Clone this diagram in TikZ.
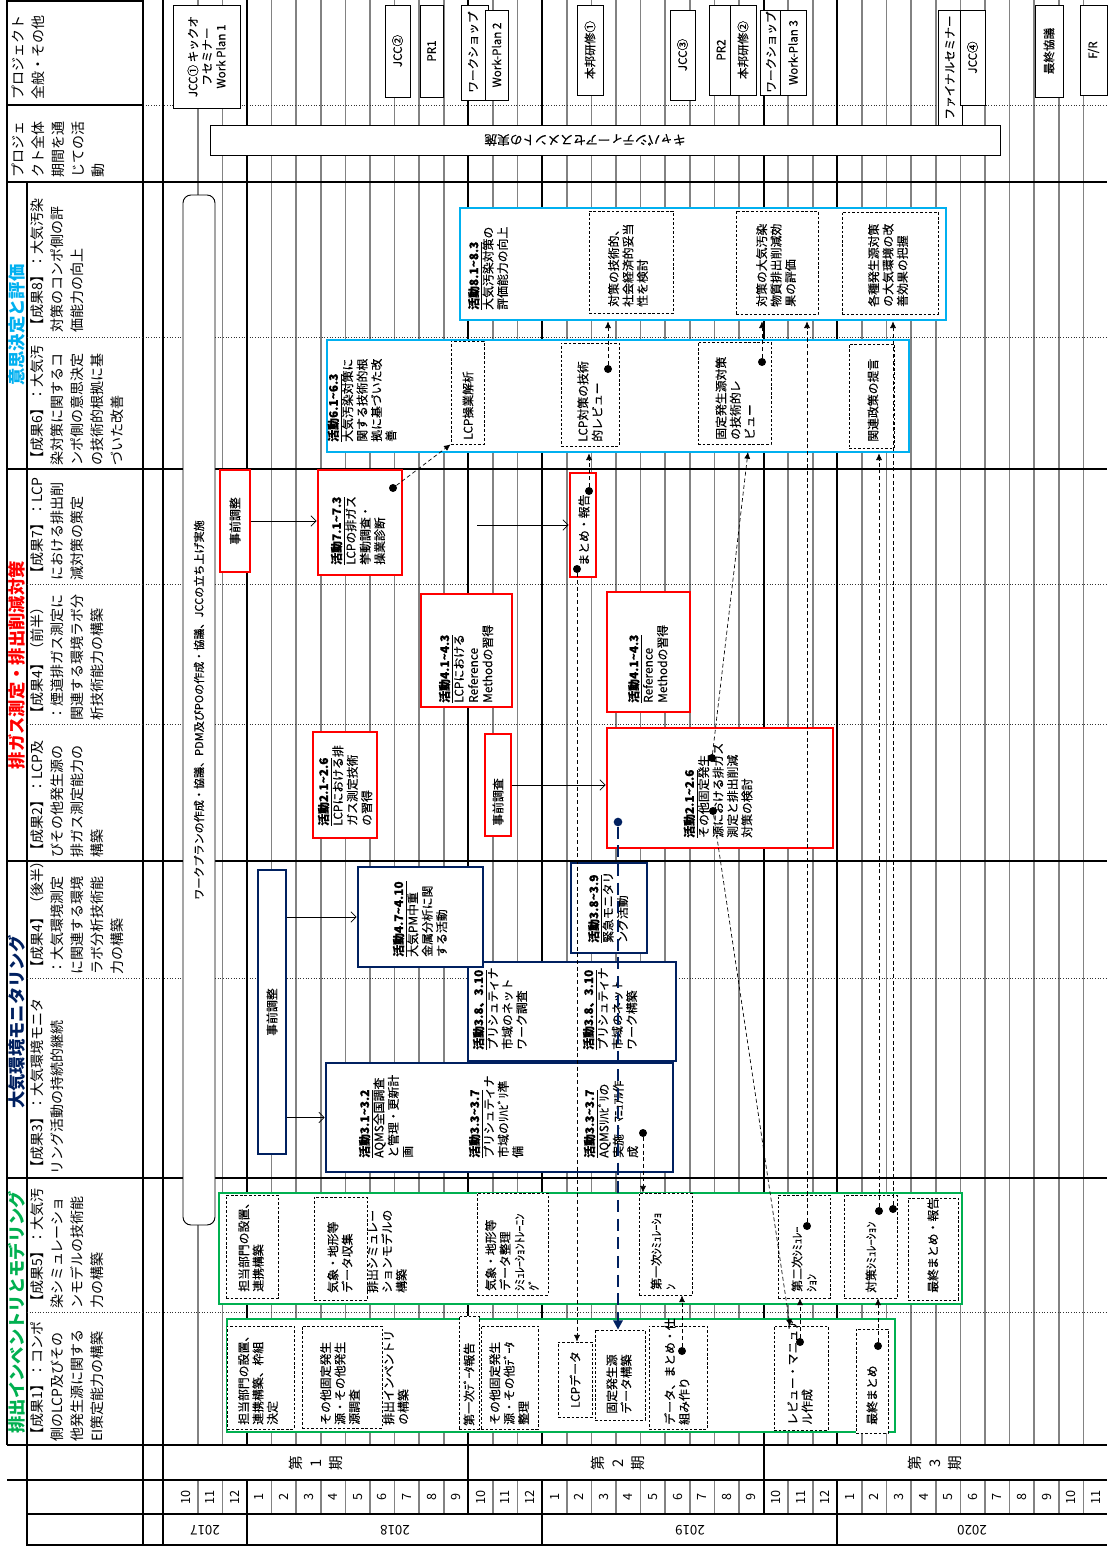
\documentclass[tikz,border=0pt]{standalone}
\usepackage{fontspec}
\setmainfont{Noto Sans CJK JP}
\newfontfamily\bxfont{Noto Sans CJK JP}[FakeBold=0.3]
\usetikzlibrary{arrows.meta,fit}
\definecolor{cgreen}{RGB}{0,176,80}
\definecolor{cnavy}{RGB}{0,32,96}
\definecolor{cred}{RGB}{255,0,0}
\definecolor{ccyan}{RGB}{0,176,240}
\definecolor{gridgray}{RGB}{130,130,130}
\newcommand{\wv}{\textasciitilde}
\newcommand{\act}[1]{\underline{\textbf{活動#1}}}
\newcommand{\fsz}{\bxfont\fontsize{8.9}{10.8}\selectfont}
% box from two corner points (pixel units)
\newcommand{\mkbox}[6]{\node[#1, fit={(#3,#4) (#5,#6)}, inner sep=0pt] (#2) {};}
% rotated text block, anchored at its lower middle
\newcommand{\tw}[4]{\node[tx] (#1) at (#2,#3) {#4};}
\begin{document}
\begin{tikzpicture}[x=0.75pt,y=-0.75pt,
  mgrid/.style={draw=gridgray, line width=1.1pt},
  thk/.style={draw=black, line width=1.5pt},
  medl/.style={draw=black, line width=0.9pt},
  dotl/.style={draw=black!80, line width=0.6pt, dash pattern=on 0.8pt off 1.2pt},
  rb/.style={draw=cred, line width=2pt, fill=white},
  nb/.style={draw=cnavy, line width=2pt, fill=white},
  cb/.style={draw=ccyan, line width=2pt, fill=white},
  gb/.style={draw=cgreen, line width=2pt, fill=white},
  db/.style={draw=black, line width=0.55pt, dash pattern=on 2pt off 1.4pt, fill=white},
  tb/.style={draw=black, line width=0.7pt, fill=white},
  rr/.style={draw=black, line width=0.7pt, rounded corners=6pt, fill=white},
  tx/.style={rotate=90, anchor=west, align=left, inner sep=0pt, font=\fsz},
  tt/.style={rotate=90, align=center, inner sep=0pt, font=\bxfont\fontsize{8.7}{10.5}\selectfont},
  hd/.style={rotate=90, anchor=north west, align=left, inner sep=0pt, font=\fontsize{10.5}{15}\selectfont},
  cat/.style={rotate=90, inner sep=0pt, font=\fontsize{13}{13}\selectfont\bfseries},
  bdot/.style={circle, fill=black, inner sep=0pt, minimum size=6pt},
  ndot/.style={circle, fill=cnavy, inner sep=0pt, minimum size=6.5pt},
  dcon/.style={draw=black, line width=0.5pt, dash pattern=on 3pt off 2pt, -{Latex[length=5pt,width=4.5pt]}},
  ncon/.style={draw=cnavy, line width=2.2pt, dash pattern=on 9pt off 5pt, -{Triangle[length=7pt,width=7pt]}},
  sarr/.style={draw=black, line width=0.5pt, -{Straight Barb[length=4pt,width=8pt]}},
]
\fill[white] (0,0) rectangle (1107,1546);
\useasboundingbox (0,0) rectangle (1107,1546);

% ---------- month grid ----------
\foreach \m in {1,...,37} {
  \draw[mgrid] ({173.2+24.6*\m},0) -- ({173.2+24.6*\m},1445);
  \draw[mgrid] ({173.2+24.6*\m},1480) -- ({173.2+24.6*\m},1514);
}
% row separators inside the chart
\foreach \yy in {105,337,584,724,978,1312} \draw[dotl] (143,\yy) -- (1107,\yy);
\draw[medl] (7,469) -- (1107,469);
\foreach \yy in {182,861,1178,1445,1480} \draw[thk] (7,\yy) -- (1107,\yy);
\draw[medl] (27,1514) -- (1107,1514);
\draw[medl] (27,1545) -- (1107,1545);
% year and period boundaries
\foreach \m in {3,15,27} {
  \draw[thk] ({173.2+24.6*\m},0) -- ({173.2+24.6*\m},1445);
  \draw[thk] ({173.2+24.6*\m},1480) -- ({173.2+24.6*\m},1546);
}
\foreach \m in {12,24} \draw[thk] ({173.2+24.6*\m},0) -- ({173.2+24.6*\m},1514);
\draw[thk] (163,0) -- (163,1546);

% ---------- header column ----------
\draw[thk] (7,0.8) -- (143,0.8);
\draw[thk] (7,105) -- (143,105);
\draw[thk] (7,0) -- (7,1445);
\draw[thk] (143,0) -- (143,1546);
\draw[medl] (27,182) -- (27,1445);
\draw[thk] (27,1445) -- (27,1546);
\foreach \yy in {337,584,724,978,1312} \draw[dotl] (27,\yy) -- (143,\yy);

\node[hd] (h00) at (12,100) {プロジェクト\\全般・その他};
\node[hd] (h01) at (12,178) {プロジェ\\クト全体\\期間を通\\じての活\\動};
\node[hd] (h8) at (30,333) {【成果8】：大気汚染\\対策のコンポ側の評\\価能力の向上};
\node[hd] (h6) at (30,466) {【成果6】：大気汚\\染対策に関するコ\\ンポ側の意思決定\\の技術的根拠に基\\づいた改善};
\node[hd] (h7) at (30,581) {【成果7】：LCP\\における排出削\\減対策の策定};
\node[hd] (h4a) at (30,721) {【成果4】（前半）\\：煙道排ガス測定に\\関連する環境ラボ分\\析技術能力の構築};
\node[hd] (h2) at (30,858) {【成果2】：LCP及\\びその他発生源の\\排ガス測定能力の\\構築};
\node[hd] (h4b) at (30,975) {【成果4】（後半）\\：大気環境測定\\に関連する環境\\ラボ分析技術能\\力の構築};
\node[hd] (h3) at (30,1175) {【成果3】：大気環境モニタ\\リング活動の持続的継続};
\node[hd] (h5) at (30,1309) {【成果5】：大気汚\\染シミュレーショ\\ンモデルの技術能\\力の構築};
\node[hd] (h1) at (30,1442) {【成果1】：コンポ\\側のLCP及びその\\他発生源に関する\\EI策定能力の構築};

\node[cat, text=ccyan] (k1) at (17,325) {意思決定と評価};
\node[cat, text=cred] (k2) at (17,665) {排ガス測定・排出削減対策};
\node[cat, text=cnavy] (k3) at (17,1022) {大気環境モニタリング};
\node[cat, text=cgreen] (k4) at (17,1312) {排出インベントリとモデリング};

% ---------- time axis ----------
\foreach \m in {0,...,37} {
  \pgfmathtruncatemacro{\mm}{mod(\m+9,12)+1}
  \node[rotate=90, inner sep=0pt, font=\fontsize{9.5}{10}\selectfont] (mo\m) at ({173.2+24.6*(\m+0.5)},1497) {\mm};
}
\node[rotate=180, font=\fontsize{10}{10}\selectfont] (yr17) at (205,1530) {2017};
\node[rotate=180, font=\fontsize{10}{10}\selectfont] (yr18) at (395,1530) {2018};
\node[rotate=180, font=\fontsize{10}{10}\selectfont] (yr19) at (690,1530) {2019};
\node[rotate=180, font=\fontsize{10}{10}\selectfont] (yr20) at (972,1530) {2020};
\node[rotate=90, align=center, inner sep=0pt, font=\fontsize{11}{15}\selectfont] (ki1) at (316,1463) {第\\1\\期};
\node[rotate=90, align=center, inner sep=0pt, font=\fontsize{11}{15}\selectfont] (ki2) at (618,1463) {第\\2\\期};
\node[rotate=90, align=center, inner sep=0pt, font=\fontsize{11}{15}\selectfont] (ki3) at (935,1463) {第\\3\\期};

% ---------- project-wide events ----------
\mkbox{tb}{jcc1}{173}{5}{240}{108}
\node[tt] (jcc1t) at (jcc1) {JCC① キックオ\\フセミナー\\Work Plan 1};
\mkbox{tb}{jcc2}{385}{5}{410}{97}   \node[tt] (jcc2t) at (jcc2) {JCC②};
\mkbox{tb}{pr1}{420}{5}{443}{97}    \node[tt] (pr1t) at (pr1) {PR1};
\mkbox{tb}{ws2}{461}{5}{488}{100}   \node[tt] (ws2t) at (473,52) {ワークショップ};
\mkbox{tb}{wp2}{485}{10}{508}{100}  \node[tt] (wp2t) at (wp2) {Work-Plan 2};
\mkbox{tb}{hon1}{577}{5}{603}{95}   \node[tt] (hon1t) at (hon1) {本邦研修①};
\mkbox{tb}{jcc3}{670}{10}{695}{100} \node[tt] (jcc3t) at (jcc3) {JCC③};
\mkbox{tb}{pr2}{709}{5}{733}{95}    \node[tt] (pr2t) at (pr2) {PR2};
\mkbox{tb}{hon2}{730}{5}{756}{95}   \node[tt] (hon2t) at (hon2) {本邦研修②};
\mkbox{tb}{ws3}{760}{10}{784}{95}   \node[tt] (ws3t) at (771,52) {ワークショップ};
\mkbox{tb}{wp3}{780}{10}{806}{95}   \node[tt] (wp3t) at (wp3) {Work-Plan 3};
\mkbox{tb}{cap}{210}{125}{1000}{155}
\node[rotate=180, inner sep=0pt, font=\bxfont\fontsize{9.5}{10}\selectfont] (capt) at (585,140) {キャパシティーアセスメントの実施};
\mkbox{tb}{fsem}{938}{10}{962}{125} \node[tt] (fsemt) at (fsem) {ファイナルセミナー};
\mkbox{tb}{jcc4}{960}{10}{985}{105} \node[tt] (jcc4t) at (jcc4) {JCC④};
\mkbox{tb}{fin}{1035}{5}{1063}{97}  \node[tt] (fint) at (fin) {最終協議};
\mkbox{tb}{fr}{1080}{5}{1107}{95}   \node[tt] (frt) at (fr) {F/R};

\mkbox{rr}{wp}{183}{195}{215}{1225}
\node[rotate=90, inner sep=0pt, font=\bxfont\fontsize{8.3}{10}\selectfont] (wpt) at (199,710) {ワークプランの作成・協議、PDM及びPOの作成・協議、JCCの立ち上げ実施};

% ---------- decision making and evaluation ----------
\mkbox{cb}{c8}{460}{208}{946}{320}
\tw{c8t}{488}{310}{\act{8.1\wv8.3}\\大気汚染対策の\\評価能力の向上}
\mkbox{db}{c8a}{589}{211}{673}{313}
\tw{c8at}{628}{307}{対策の技術的、\\社会経済的妥当\\性を検討}
\mkbox{db}{c8b}{736}{211}{818}{314}
\tw{c8bt}{776}{307}{対策の大気汚染\\物質排出削減効\\果の評価}
\mkbox{db}{c8c}{842}{212}{938}{314}
\tw{c8ct}{888}{307}{各種発生源対策\\の大気環境の改\\善効果の把握}

\mkbox{cb}{c6}{327}{340}{909}{452}
\tw{c6t}{362}{442}{\act{6.1\wv6.3}\\大気汚染対策に\\関する技術的根\\拠に基づいた改\\善}
\mkbox{db}{c6a}{451}{341}{484}{444}
\tw{c6at}{468}{440}{LCP操業解析}
\mkbox{db}{c6b}{561}{343}{619}{446}
\tw{c6bt}{590}{442}{LCP対策の技術\\的レビュー}
\mkbox{db}{c6c}{698}{342}{771}{444}
\tw{c6ct}{735}{440}{固定発生源対策\\の技術的レ\\ビュー}
\mkbox{db}{c6d}{849}{344}{894}{448}
\tw{c6dt}{873}{442}{関連政策の提言}

% ---------- stack gas measurement and reduction ----------
\mkbox{rb}{rpre1}{220}{470}{250}{572}
\node[rotate=90, inner sep=0pt, font=\fsz] (rpre1t) at (rpre1) {事前調整};
\mkbox{rb}{r7}{318}{470}{402}{575}
\tw{r7t}{358}{565}{\act{7.1\wv7.3}\\LCPの排ガス\\挙動調査・\\操業診断}
\mkbox{rb}{rsum}{570}{473}{596}{577}
\tw{rsumt}{584}{566}{まとめ・報告}
\mkbox{rb}{r41}{421}{594}{512}{707}
\tw{r41t}{466}{703}{\act{4.1\wv4.3}\\LCPにおける\\Reference\\Methodの習得}
\mkbox{rb}{r42}{607}{592}{690}{712}
\tw{r42t}{648}{703}{\act{4.1\wv4.3}\\Reference\\Methodの習得}
\mkbox{rb}{r21}{313}{732}{377}{838}
\tw{r21t}{345}{826}{\act{2.1\wv2.6}\\LCPにおける排\\ガス測定技術\\の習得}
\mkbox{rb}{rpre2}{485}{734}{511}{836}
\tw{rpre2t}{498}{826}{事前調査}
\mkbox{rb}{r22}{607}{728}{833}{848}
\tw{r22t}{718}{838}{\act{2.1\wv2.6}\\その他固定発生\\源における排ガス\\測定と排出削減\\対策の検討}

% ---------- ambient air monitoring ----------
\mkbox{nb}{npre}{258}{870}{286}{1154}
\node[rotate=90, inner sep=0pt, font=\fsz] (npret) at (npre) {事前調整};
\mkbox{nb}{n310}{468}{962}{676}{1061}
\tw{n310at}{500}{1050}{\act{3.8、3.10}\\プリシュティナ\\市域のネット\\ワーク調査}
\tw{n310bt}{610}{1050}{\act{3.8、3.10}\\プリシュティナ\\市域のネット\\ワーク構築}
\mkbox{nb}{n47}{358}{867}{483}{967}
\tw{n47t}{420}{957}{\act{4.7\wv4.10}\\大気PM中重\\金属分析に関\\する活動}
\mkbox{nb}{n38}{571}{863}{647}{953}
\tw{n38t}{608}{943}{\act{3.8\wv3.9}\\緊急モニタリ\\ング活動}
\mkbox{nb}{n31}{326}{1063}{673}{1172}
\tw{n31at}{386}{1158}{\act{3.1\wv3.2}\\AQMS全国調査\\と管理・更新計\\画}
\tw{n31bt}{496}{1158}{\act{3.3\wv3.7}\\プリシュティナ\\市域のﾘﾊﾋﾞﾘ準\\備}
\tw{n31ct}{611}{1158}{\act{3.3\wv3.7}\\AQMSﾘﾊﾋﾞﾘの\\実施・ﾏﾆｭｱﾙ作\\成}

% ---------- inventory and modelling ----------
\mkbox{gb}{g5}{219}{1193}{962}{1304}
\mkbox{db}{g5a}{226}{1195}{278}{1298}
\tw{g5at}{251}{1292}{担当部門の設置、\\連携構築}
\mkbox{db}{g5b}{314}{1197}{367}{1300}
\tw{g5bt}{340}{1293}{気象・地形等\\データ収集}
\tw{g5ct}{387}{1293}{排出シミュレー\\ションモデルの\\構築}
\mkbox{db}{g5d}{477}{1193}{548}{1295}
\tw{g5dt}{512}{1291}{気象・地形等\\データ整理\\ｼﾐｭﾚｰｼｮﾝﾄﾚｰﾆﾝ\\ｸﾞ}
\mkbox{db}{g5e}{639}{1193}{692}{1295}
\tw{g5et}{663}{1290}{第一次ｼﾐｭﾚｰｼｮ\\ﾝ}
\mkbox{db}{g5f}{778}{1195}{830}{1298}
\tw{g5ft}{804}{1292}{第二次ｼﾐｭﾚｰ\\ｼｮﾝ}
\mkbox{db}{g5g}{844}{1195}{897}{1298}
\tw{g5gt}{871}{1293}{対策ｼﾐｭﾚｰｼｮﾝ}
\mkbox{db}{g5h}{908}{1198}{958}{1300}
\tw{g5ht}{933}{1293}{最終まとめ・報告}

\mkbox{gb}{g1}{227}{1319}{895}{1432}
\mkbox{db}{g1a}{227}{1326}{294}{1429}
\tw{g1at}{258}{1425}{担当部門の設置、\\連携構築、枠組\\決定}
\mkbox{db}{g1b}{302}{1326}{382}{1428}
\tw{g1bt}{340}{1425}{その他固定発生\\源・その他発生\\源調査}
\tw{g1ct}{396}{1425}{排出インベントリ\\の構築}
\mkbox{db}{g1d}{459}{1316}{479}{1429}
\tw{g1dt}{469}{1426}{第一次ﾃﾞｰﾀ報告}
\mkbox{db}{g1e}{481}{1326}{538}{1429}
\tw{g1et}{509}{1425}{その他固定発生\\源・その他ﾃﾞｰﾀ\\整理}
\mkbox{db}{g1f}{558}{1342}{592}{1417}
\node[rotate=90, inner sep=0pt, font=\fsz] (g1ft) at (g1f) {LCPデータ};
\mkbox{db}{g1g}{595}{1330}{645}{1420}
\tw{g1gt}{619}{1414}{固定発生源\\データ構築}
\mkbox{db}{g1h}{649}{1326}{707}{1429}
\tw{g1ht}{677}{1425}{データ、まとめ・仕\\組み作り}
\mkbox{db}{g1i}{774}{1326}{828}{1430}
\tw{g1it}{800}{1425}{レビュー・マニュア\\ル作成}
\mkbox{db}{g1j}{856}{1329}{888}{1433}
\tw{g1jt}{872}{1425}{最終まとめ}

% ---------- solid arrows ----------
\draw[sarr] (rpre1.east) -- (rpre1.east -| r7.west);
\coordinate (s2) at (477,525);
\draw[sarr] (s2) -- (s2 -| rsum.west);
\draw[sarr] (rpre2.east) -- (rpre2.east -| r22.west);
\draw[sarr] (npre.east |- n47.west) -- (n47.west);
\draw[sarr] (npre.east |- n31.west) -- (n31.west);

% ---------- dashed links ----------
\node[bdot] (p1) at (393,488) {};
\draw[dcon] (p1) -- (c6a.south west);
\node[bdot] (p2) at (608,369) {};
\draw[dcon] (p2) -- (p2 |- c8.south);
\node[bdot] (p3) at (762,362) {};
\draw[dcon] (p3) -- (p3 |- c8.south);
\node[bdot] (p4) at (807,1226) {};
\draw[dcon] (p4) -- (p4 |- c8.south);
\node[bdot] (p5) at (879,1211) {};
\draw[dcon] (p5) -- (p5 |- c6.south);
\node[bdot] (p6) at (893,1209) {};
\draw[dcon] (p6) -- (p6 |- c8.south);
\node[bdot] (p7) at (589,491) {};
\draw[dcon] (p7) -- (p7 |- c6.south);
\node[bdot] (p8) at (577,569) {};
\draw[dcon] (p8) -- (p8 |- g1f.north);
\node[bdot] (p9) at (712,758) {};
\coordinate (t9) at (748,452);
\draw[dcon] (p9) -- (t9);
\node[bdot] (p10) at (713,811) {};
\coordinate (t10) at (790,1326);
\draw[dcon] (p10) -- (t10);
\node[bdot] (p11) at (643,1133) {};
\draw[dcon] (p11) -- (p11 |- g5e.north);
\node[bdot] (p12) at (682,1351) {};
\draw[dcon] (p12) -- (p12 |- g5e.south);
\node[bdot] (p13) at (800,1342) {};
\draw[dcon] (p13) -- (p13 |- g5f.south);
\node[bdot] (p14) at (878,1346) {};
\draw[dcon] (p14) -- (p14 |- g5g.south);
\node[ndot] (p15) at (618,822) {};
\draw[ncon] (p15) -- (p15 |- g1g.north);
\end{tikzpicture}
\end{document}
